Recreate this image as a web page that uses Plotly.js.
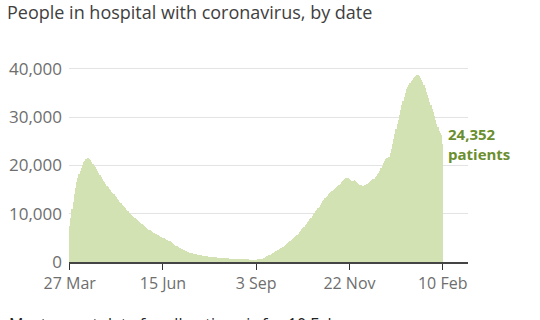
<!DOCTYPE html>
<html>
<head>
<meta charset="utf-8">
<script src="https://cdn.plot.ly/plotly-3.0.1.min.js"></script>
<style>
  html, body { margin: 0; padding: 0; background: #fff; }
  #chart { width: 540px; height: 320px; }
</style>
</head>
<body>
<div id="chart"></div>
<script>
// Daily patients in hospital, 27 Mar 2020 to 10 Feb 2021
const startDate = '2020-03-27';
const patients = [
  7500, 9200, 11000, 12500, 14000, 15300, 16500, 17400, 18200, 18800,
  19500, 20100, 20700, 21000, 21300, 21600, 21500, 21400, 21100, 20700,
  20300, 19900, 19600, 19300, 18900, 18500, 18100, 17600, 17200, 16800,
  16500, 16100, 15800, 15500, 15200, 14900, 14600, 14300, 14000, 13700,
  13400, 13100, 12800, 12500, 12200, 11900, 11600, 11400, 11100, 10800,
  10500, 10200, 10000, 9800, 9600, 9400, 9200, 9000, 8700, 8400,
  8200, 8000, 7850, 7700, 7500, 7300, 7100, 6900, 6700, 6600,
  6500, 6300, 6100, 5950, 5800, 5650, 5500, 5350, 5200, 5100,
  5000, 4900, 4800, 4650, 4500, 4400, 4250, 4100, 3900, 3700,
  3550, 3400, 3250, 3100, 3000, 2850, 2700, 2600, 2450, 2300,
  2200, 2100, 2000, 1930, 1860, 1800, 1740, 1680, 1620, 1560,
  1500, 1450, 1400, 1360, 1320, 1280, 1240, 1200, 1170, 1140,
  1100, 1070, 1040, 1010, 990, 970, 950, 930, 910, 890,
  870, 850, 830, 810, 790, 770, 750, 720, 690, 660,
  640, 620, 600, 590, 580, 570, 560, 550, 545, 540,
  535, 530, 525, 520, 515, 510, 510, 505, 500, 500,
  510, 530, 560, 600, 650, 720, 800, 900, 1000, 1150,
  1300, 1420, 1550, 1680, 1800, 1950, 2100, 2250, 2400, 2550,
  2700, 2850, 3000, 3200, 3400, 3600, 3800, 4000, 4200, 4400,
  4600, 4800, 5000, 5200, 5400, 5650, 5900, 6150, 6450, 6750,
  7050, 7350, 7650, 7950, 8250, 8600, 8900, 9200, 9500, 9850,
  10150, 10500, 10850, 11150, 11500, 11850, 12200, 12550, 12900, 13200,
  13500, 13750, 14000, 14200, 14450, 14700, 14950, 15150, 15400, 15600,
  15800, 16000, 16250, 16500, 16750, 17000, 17250, 17400, 17500, 17350,
  17100, 16900, 16700, 16850, 16950, 16700, 16500, 16300, 16150, 16000,
  15900, 15800, 15750, 15900, 16050, 16200, 16350, 16550, 16750, 16950,
  17100, 17300, 17550, 17800, 18150, 18500, 18900, 19400, 19900, 20500,
  21000, 21300, 21500, 21600, 21700, 22500, 23500, 24500, 25500, 26500,
  27500, 28500, 29500, 30500, 31500, 32500, 33400, 34200, 35000, 35800,
  36300, 36700, 37100, 37500, 37800, 38100, 38400, 38600, 38800, 38700,
  38500, 38200, 37800, 37300, 36700, 36000, 35300, 34600, 33900, 33200,
  32500, 31800, 31000, 30200, 29500, 28700, 27900, 27200, 26700, 26400,
  24352
];
const tickDates = ['2020-03-27', '2020-06-15', '2020-09-03', '2020-11-22', '2021-02-10'];
const tickLabels = ['27 Mar', '15 Jun', '3 Sep', '22 Nov', '10 Feb'];
const yTicks = [0, 10000, 20000, 30000, 40000];
const yTickLabels = ['0', '10,000', '20,000', '30,000', '40,000'];
const subtitle = 'People in hospital with coronavirus, by date';
const footnote = 'Most recent data for all nations is for 10 Feb';
const latestLabel = '24,352<br>patients';

// build the date for each daily bar
const dates = [];
const d0 = new Date(startDate + 'T00:00:00Z');
for (let i = 0; i < patients.length; i++) {
  const d = new Date(d0.getTime() + i * 86400000);
  dates.push(d.toISOString().slice(0, 10));
}

const trace = {
  type: 'bar',
  x: dates,
  y: patients,
  marker: { color: '#d3e2b3', line: { width: 0 } },
  hoverinfo: 'skip'
};

const layout = {
  width: 540,
  height: 320,
  margin: { l: 69, r: 72, t: 60, b: 58 },
  paper_bgcolor: '#ffffff',
  plot_bgcolor: '#ffffff',
  font: { family: 'Open Sans, sans-serif', color: '#6e6e6e', size: 16 },
  bargap: 0,
  showlegend: false,
  title: {
    text: subtitle,
    xref: 'container', yref: 'container',
    x: 7 / 540, xanchor: 'left',
    y: 1 - 6 / 320, yanchor: 'top',
    font: { family: 'Open Sans, sans-serif', size: 18, color: '#404040' },
    pad: { t: 0, l: 0 }
  },
  xaxis: {
    type: 'date',
    range: ['2020-03-26 10:00', '2021-03-03 17:00'],
    tickmode: 'array',
    tickvals: tickDates,
    ticktext: tickLabels,
    ticks: 'outside',
    ticklen: 6,
    tickwidth: 1,
    tickcolor: '#333333',
    showgrid: false,
    showline: true,
    linecolor: '#444444',
    linewidth: 2,
    zeroline: false,
    tickfont: { size: 16, color: '#6e6e6e' },
    fixedrange: true
  },
  yaxis: {
    range: [0, 41860],
    tickmode: 'array',
    tickvals: yTicks,
    ticktext: yTickLabels,
    showgrid: true,
    gridcolor: '#e3e3e3',
    gridwidth: 1,
    zeroline: false,
    showline: false,
    ticks: '',
    ticklabelstandoff: 6,
    tickfont: { size: 17, color: '#6e6e6e' },
    fixedrange: true
  },
  annotations: [
    {
      x: dates[dates.length - 1],
      y: patients[patients.length - 1],
      xref: 'x', yref: 'y',
      text: '<b>' + latestLabel + '</b>',
      showarrow: false,
      xanchor: 'left', yanchor: 'middle',
      align: 'left',
      xshift: 3,
      font: { family: 'Open Sans, sans-serif', size: 15, color: '#6b8e2e' }
    },
    {
      x: -62 / 399, y: -49 / 202,
      xref: 'paper', yref: 'paper',
      text: footnote,
      showarrow: false,
      xanchor: 'left', yanchor: 'top',
      align: 'left',
      font: { family: 'Open Sans, sans-serif', size: 16, color: '#222222' }
    }
  ]
};

Plotly.newPlot('chart', [trace], layout, { displayModeBar: false, staticPlot: true });
</script>
</body>
</html>
